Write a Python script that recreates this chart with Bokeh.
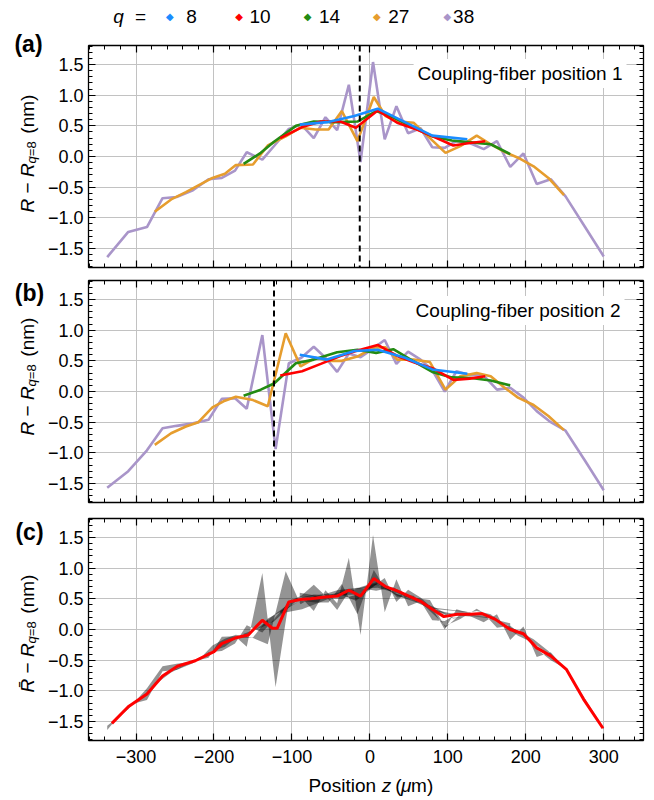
import math
from bokeh.models import (Range1d, SingleIntervalTicker, LinearAxis, Grid, Span, Label,
                          CustomJSTickFormatter)
from bokeh.plotting import figure
from bokeh.layouts import column, row
from bokeh.embed import file_html
from bokeh.resources import INLINE

# ---------------- data ----------------
Q_LABELS = ["8", "10", "14", "27", "38"]
COLORS = ["#1a8cff", "#ff0000", "#238b12", "#e69d2e", "#a995c9"]

X8 = [-90, -55, -20, 10, 45, 80, 125]
A8 = [0.52, 0.56, 0.66, 0.78, 0.56, 0.34, 0.28]
B8 = [0.60, 0.52, 0.66, 0.68, 0.55, 0.36, 0.29]

X10 = [-115, -87, -63, -38, -18, 10, 35, 58, 82, 107, 128, 148]
A10 = [0.30, 0.48, 0.57, 0.57, 0.47, 0.75, 0.55, 0.45, 0.32, 0.18, 0.22, 0.25]
B10 = [0.26, 0.33, 0.45, 0.58, 0.66, 0.76, 0.58, 0.47, 0.37, 0.19, 0.21, 0.25]

X14 = [-162, -140, -123, -95, -72, -42, -16, 8, 30, 55, 80, 105, 130, 155, 180]
A14 = [-0.12, 0.06, 0.24, 0.50, 0.57, 0.56, 0.57, 0.74, 0.64, 0.48, 0.33, 0.26, 0.23, 0.20, 0.04]
B14 = [-0.07, 0.03, 0.13, 0.46, 0.52, 0.64, 0.68, 0.63, 0.69, 0.50, 0.32, 0.23, 0.22, 0.18, 0.10]

X27 = [-276, -255, -236, -220, -202, -186, -172, -150, -131, -108, -89, -70, -53, -36, -16,
       5, 20, 35, 56, 77, 97, 116, 137, 155, 172, 190, 210, 229, 249]
A27 = [-0.90, -0.70, -0.58, -0.47, -0.35, -0.28, -0.14, -0.13, 0.18, 0.33, 0.47, 0.44, 0.44, 0.74, 0.25,
       0.97, 0.66, 0.575, 0.55, 0.30, 0.06, 0.17, 0.34, 0.20, 0.08, -0.02, -0.16, -0.35, -0.63]
B27 = [-0.87, -0.68, -0.57, -0.50, -0.26, -0.15, -0.085, -0.14, -0.24, 0.95, 0.41, 0.55, 0.50, 0.50, 0.57,
       0.72, 0.72, 0.52, 0.52, 0.48, 0.03, 0.25, 0.30, 0.25, 0.07, -0.10, -0.22, -0.40, -0.63]

X38 = [-337, -310, -286, -266, -248, -227, -207, -190, -173, -158, -138, -121, -104, -88, -72, -57, -42,
       -27, -12, 4, 19, 34, 49, 65, 80, 96, 111, 128, 146, 163, 180, 197, 214, 232, 251, 276, 300]
A38 = [-1.64, -1.23, -1.15, -0.68, -0.66, -0.55, -0.37, -0.35, -0.23, 0.07, -0.05, 0.20, 0.45, 0.52, 0.30,
       0.64, 0.43, 1.17, -0.09, 1.54, 0.28, 0.82, 0.38, 0.46, 0.15, 0.14, 0.25, 0.22, 0.12, 0.25,
       -0.17, 0.05, -0.45, -0.37, -0.65, -1.15, -1.63]
B38 = [-1.57, -1.30, -0.96, -0.60, -0.56, -0.52, -0.46, -0.12, -0.11, -0.28, 0.92, -0.94, 0.46, 0.55, 0.73,
       0.55, 0.32, 0.62, 0.56, 0.70, 0.84, 0.45, 0.65, 0.52, 0.35, 0.00, 0.33, 0.27, 0.26, 0.03,
       0.06, -0.10, -0.32, -0.50, -0.64, -1.13, -1.61]

XM = [-331, -310, -286, -266, -247, -224, -200, -190, -173, -156, -138, -125, -119, -104, -89, -76, -57,
      -42, -27, -12, 5, 20, 35, 50, 65, 80, 95, 112, 129, 144, 161, 180, 197, 214, 232, 252, 274, 299]
YM = [-1.53, -1.26, -1.05, -0.76, -0.60, -0.51, -0.36, -0.23, -0.14, -0.09, 0.15, 0.02, 0.02, 0.45, 0.49,
      0.50, 0.53, 0.545, 0.64, 0.545, 0.83, 0.70, 0.63, 0.545, 0.46, 0.33, 0.21, 0.25, 0.25, 0.26,
      0.165, 0.0, -0.07, -0.30, -0.43, -0.65, -1.135, -1.61]

SERIES_X = [X8, X10, X14, X27, X38]
SERIES_A = [A8, A10, A14, A27, A38]
SERIES_B = [B8, B10, B14, B27, B38]

FIBER_A = -13    # dashed line, panel (a)
FIBER_B = -123   # dashed line, panel (b)

X_TICKS_STEP = 100
Y_TICKS_STEP = 0.5
XR = (-361, 351)
YR = (-1.81, 1.81)

# ---------------- layout ----------------
FONT = "Liberation Sans"
TOTAL_W, TOTAL_H = 652, 798
S = 44                      # width of the left strip (titles, panel letters)
RW = TOTAL_W - S            # width of the panel column
FRAME_LEFT = 88 - S
FRAME_RIGHT = TOTAL_W - 643
LEG_H, PA_H, PB_H, PC_H = 33, 240, 235, 262
XT_H = TOTAL_H - (LEG_H + PA_H + PB_H + PC_H)
SPACE = 0.278               # em width of a space in Liberation Sans


def style_axis(ax, labels, standoff):
    ax.major_tick_in = 7
    ax.major_tick_out = 0
    ax.minor_tick_in = 4
    ax.minor_tick_out = 0
    ax.axis_line_color = "black"
    ax.axis_line_width = 1.3
    ax.major_tick_line_color = "black"
    ax.major_tick_line_width = 1.2
    ax.minor_tick_line_color = "black"
    ax.minor_tick_line_width = 1
    ax.axis_label = None
    if labels:
        ax.major_label_text_font = FONT
        ax.major_label_text_font_size = "18px"
        ax.major_label_text_color = "black"
        ax.major_label_standoff = standoff
    else:
        ax.formatter = CustomJSTickFormatter(code="return '';")
        ax.major_label_text_font_size = "0px"
        ax.major_label_standoff = 0


def make_panel(h, top, bottom, xlabels):
    p = figure(width=RW, height=h, x_range=Range1d(*XR), y_range=Range1d(*YR),
               x_axis_location=None, y_axis_location=None,
               output_backend="svg", toolbar_location=None,
               min_border_left=FRAME_LEFT, min_border_right=FRAME_RIGHT,
               min_border_top=top, min_border_bottom=bottom)
    p.outline_line_color = "black"
    p.outline_line_width = 1
    for side in ["below", "above"]:
        ax = LinearAxis(ticker=SingleIntervalTicker(interval=X_TICKS_STEP, num_minor_ticks=5),
                        formatter=CustomJSTickFormatter(
                            code="return tick.toFixed(0).replace('-', '\u2212');"))
        style_axis(ax, side == "below" and xlabels, 9)
        p.add_layout(ax, side)
    for side in ["left", "right"]:
        ax = LinearAxis(ticker=SingleIntervalTicker(interval=Y_TICKS_STEP, num_minor_ticks=5),
                        formatter=CustomJSTickFormatter(
                            code="return tick.toFixed(1).replace('-', '\u2212');"))
        style_axis(ax, side == "left", 5)
        p.add_layout(ax, side)
    p.add_layout(Grid(dimension=0, ticker=SingleIntervalTicker(interval=X_TICKS_STEP),
                      grid_line_color="#c2c2c2", grid_line_width=1))
    p.add_layout(Grid(dimension=1, ticker=SingleIntervalTicker(interval=Y_TICKS_STEP),
                      grid_line_color="#c2c2c2", grid_line_width=1))
    return p


def blank(w, h, x0, x1, y0, y1):
    """A canvas whose data units are pixels (y downward), used for free-standing texts."""
    p = figure(width=w, height=h, x_range=Range1d(x0, x1), y_range=Range1d(y1, y0),
               x_axis_location=None, y_axis_location=None,
               output_backend="svg", toolbar_location=None, min_border=0)
    p.outline_line_color = None
    p.grid.visible = False
    return p


def put(p, x, y, text, size="19px", style="normal", font=FONT, align="left",
        baseline="middle", angle=0.0, color="black", **kw):
    p.add_layout(Label(x=x, y=y, text=text, text_font=font, text_font_size=size,
                       text_font_style=style, text_align=align, text_baseline=baseline,
                       angle=angle, text_color=color, **kw))


def note(p, dx, dy, text, **kw):
    """Label placed dx px right of the frame's left edge and dy px below its top."""
    put(p, XR[0], YR[1], text, x_offset=dx, y_offset=-dy, **kw)


# ---- panels ----
pa = make_panel(PA_H, 45 - LEG_H, PA_H - 12 - 222, False)
pb = make_panel(PB_H, 7, PB_H - 7 - 222, False)
pc = make_panel(PC_H, 10, PC_H - 10 - 222, True)

order = [4, 3, 2, 1, 0]  # purple at back, blue in front
for p, SER in ((pa, SERIES_A), (pb, SERIES_B)):
    for i in order:
        p.line(SERIES_X[i], SER[i], line_color=COLORS[i], line_width=2.6)

pa.add_layout(Span(location=FIBER_A, dimension="height", line_color="black",
                   line_dash="6 4", line_width=2))
pb.add_layout(Span(location=FIBER_B, dimension="height", line_color="black",
                   line_dash="6 4", line_width=2))

for i in order:
    pc.varea(x=SERIES_X[i], y1=SERIES_A[i], y2=SERIES_B[i], fill_color="black", fill_alpha=0.42)
pc.line(XM, YM, line_color="#ff0000", line_width=3)

for p, txt, dx, dy in ((pa, "Coupling-fiber position 1", 538, 28),
                       (pb, "Coupling-fiber position 2", 536, 30)):
    note(p, dx, dy, txt, size="19px", align="right", background_fill_color="white", padding=4)

# ---- left strip: panel letters and rotated y titles (pixel coordinates) ----
strip = blank(S, TOTAL_H, 0, S, 0, TOTAL_H)
put(strip, 28, 43, "(a)", size="23px", style="bold", align="center")
put(strip, 29, 292, "(b)", size="23px", style="bold", align="center")
put(strip, 29, 531, "(c)", size="23px", style="bold", align="center")


def y_title(p, x, bottom, bar=False):
    # (text, style, size, subscript shift, gap before [em], width [em])
    pieces = [("R\u0304" if bar else "R", "italic", 19, 0, 0.0, 0.722),
              ("\u2212", "normal", 19, 0, SPACE, 0.584),
              ("R", "italic", 19, 0, SPACE, 0.722),
              ("q", "italic", 13, 4, 0.0, 0.556),
              ("=8", "normal", 13, 4, 0.0, 1.14),
              ("(nm)", "normal", 19, 0, SPACE * 19 / 13, 2.055)]
    cum = 0.0
    for text, style, size, sub, gap, em in pieces:
        cum += gap * size
        put(p, x + sub, bottom - cum, text, size=f"{size}px", style=style,
            baseline="middle", angle=math.pi / 2)
        cum += em * size


y_title(strip, 27, 212)
y_title(strip, 27, 435)
y_title(strip, 27, 692, bar=True)

# ---- legend row ----
leg = blank(RW, LEG_H, S, TOTAL_W, 0, LEG_H)
LEG_Y = 16
put(leg, 77, LEG_Y, "q", style="italic", align="center")
put(leg, 101, LEG_Y, "=", align="center")
LEG_MARK_X = [133, 209, 284, 360, 437]
LEG_TEXT_X = [157, 232, 308, 384, 455]
for i in range(5):
    put(leg, LEG_MARK_X[i], LEG_Y, "\u25c6", size="10px", font="DejaVu Sans",
        align="center", color=COLORS[i])
    put(leg, LEG_TEXT_X[i], LEG_Y, Q_LABELS[i], align="center")

# ---- x title row: "Position" right-aligned, the rest left-aligned after a space ----
xtf = blank(RW, XT_H, S, TOTAL_W, 0, XT_H)
XT_SPLIT = 359
put(xtf, XT_SPLIT, 15, "Position", size="19px", align="right")
xt = [("z", "italic", SPACE * 1.2, 0.5), ("(", "normal", SPACE, 0.333),
      ("\u03bc", "italic", 0.0, 0.577), ("m)", "normal", 0.0, 1.166)]
cx = XT_SPLIT
for text, style, gap, em in xt:
    cx += gap * 19
    put(xtf, cx, 15, text, size="19px", style=style, baseline="middle")
    cx += em * 19

layout = row(strip, column(leg, pa, pb, pc, xtf, spacing=0), spacing=0)
open("out.html", "w").write(file_html(layout, INLINE))
